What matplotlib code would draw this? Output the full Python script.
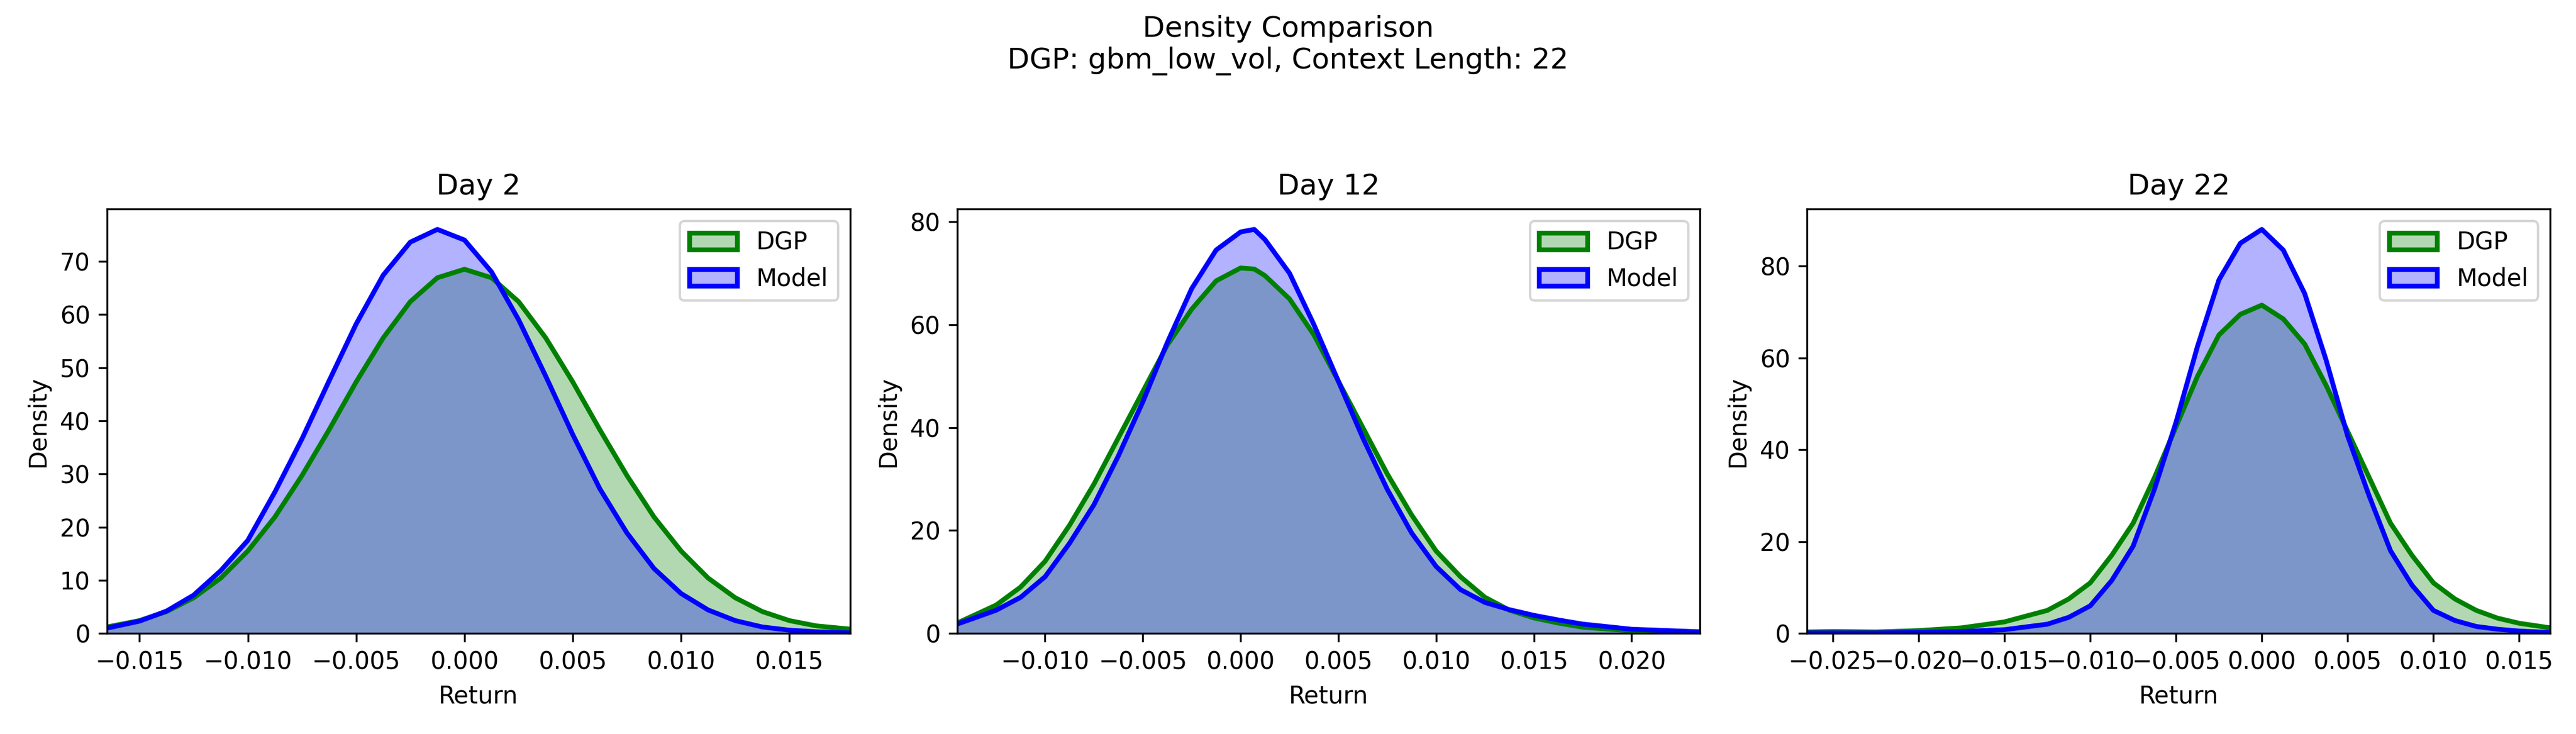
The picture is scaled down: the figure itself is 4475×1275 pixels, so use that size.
import numpy as np
import matplotlib.pyplot as plt
from matplotlib.patches import Patch

# density values, per panel
x1 = [-0.0165, -0.01625, -0.015, -0.01375, -0.0125, -0.01125, -0.01, -0.00875, -0.0075, -0.00625, -0.005, -0.00375,
      -0.0025, -0.00125, 0.0, 0.00125, 0.0025, 0.00375, 0.005, 0.00625, 0.0075, 0.00875, 0.01, 0.01125, 0.0125,
      0.01375, 0.015, 0.01625, 0.0178]
dgp1 = [1.2, 1.4, 2.4, 4.1, 6.7, 10.4, 15.5, 21.9, 29.7, 38.3, 47.3, 55.6, 62.4, 66.9, 68.5, 66.9, 62.4, 55.6,
        47.3, 38.3, 29.7, 21.9, 15.5, 10.4, 6.7, 4.1, 2.4, 1.4, 0.8]
mod1 = [1.0, 1.2, 2.3, 4.2, 7.2, 11.8, 17.5, 26.6, 36.6, 47.5, 58.2, 67.4, 73.6, 76.0, 74.0, 68.0, 59.0, 48.4,
        37.4, 27.2, 18.9, 12.2, 7.5, 4.4, 2.4, 1.2, 0.6, 0.3, 0.1]

x2 = [-0.0145, -0.01375, -0.0125, -0.01125, -0.01, -0.00875, -0.0075, -0.00625, -0.005, -0.00375, -0.0025, -0.00125,
      0.0, 0.0007, 0.00125, 0.0025, 0.00375, 0.005, 0.00625, 0.0075, 0.00875, 0.01, 0.01125, 0.0125, 0.01375,
      0.015, 0.01625, 0.0175, 0.02, 0.0235]
dgp2 = [2.0, 3.3, 5.5, 9.0, 14.0, 21.0, 29.0, 38.0, 47.0, 56.0, 63.0, 68.5, 71.0, 70.8, 69.5, 65.0, 58.0, 49.0,
        40.0, 31.0, 23.0, 16.0, 11.0, 7.0, 4.5, 3.0, 2.0, 1.2, 0.5, 0.2]
mod2 = [1.8, 2.8, 4.5, 7.0, 11.0, 17.5, 25.0, 34.5, 45.0, 56.5, 67.0, 74.5, 78.0, 78.5, 76.5, 70.0, 60.0, 49.0,
        38.0, 28.0, 19.5, 13.0, 8.5, 6.0, 4.6, 3.5, 2.6, 1.8, 0.8, 0.3]

x3 = [-0.0265, -0.025, -0.0225, -0.02, -0.0175, -0.015, -0.0125, -0.01125, -0.01, -0.00875, -0.0075, -0.00625,
      -0.005, -0.00375, -0.0025, -0.00125, 0.0, 0.00125, 0.0025, 0.00375, 0.005, 0.00625, 0.0075, 0.00875, 0.01,
      0.01125, 0.0125, 0.01375, 0.015, 0.0168]
dgp3 = [0.3, 0.4, 0.3, 0.6, 1.2, 2.5, 5.0, 7.5, 11.0, 17.0, 24.0, 34.0, 45.0, 56.0, 65.0, 69.5, 71.5, 68.5,
        63.0, 54.0, 44.0, 34.0, 24.0, 17.0, 11.0, 7.5, 5.0, 3.3, 2.2, 1.2]
mod3 = [0.1, 0.1, 0.1, 0.2, 0.4, 0.8, 2.0, 3.5, 6.0, 11.5, 19.0, 31.5, 46.0, 62.5, 77.0, 85.0, 88.0, 83.5,
        74.0, 59.5, 43.0, 30.0, 18.0, 10.5, 5.0, 2.8, 1.5, 0.9, 0.5, 0.2]

days = ["Day 2", "Day 12", "Day 22"]
panels = [(x1, dgp1, mod1), (x2, dgp2, mod2), (x3, dgp3, mod3)]

fig, axes = plt.subplots(1, 3, figsize=(14.9167, 4.25), dpi=300)
for ax, day, (x, d, m) in zip(axes, days, panels):
    ax.fill_between(x, d, color='green', alpha=0.3, linewidth=0)
    ax.plot(x, d, color='green', lw=2)
    ax.fill_between(x, m, color='blue', alpha=0.3, linewidth=0)
    ax.plot(x, m, color='blue', lw=2)
    ax.set_xlim(x[0], x[-1])
    ax.set_ylim(0, None)
    ax.set_title(day)
    ax.set_xlabel("Return")
    ax.set_ylabel("Density")
    handles = [Patch(facecolor=(0, 0.5, 0, 0.3), edgecolor='green', lw=2, label='DGP'),
               Patch(facecolor=(0, 0, 1, 0.3), edgecolor='blue', lw=2, label='Model')]
    ax.legend(handles=handles, loc='upper right')

fig.suptitle("Density Comparison\nDGP: gbm_low_vol, Context Length: 22")
fig.tight_layout(rect=[0, 0, 1, 0.93])
fig.subplots_adjust(top=0.715)
fig.savefig("out.png")
